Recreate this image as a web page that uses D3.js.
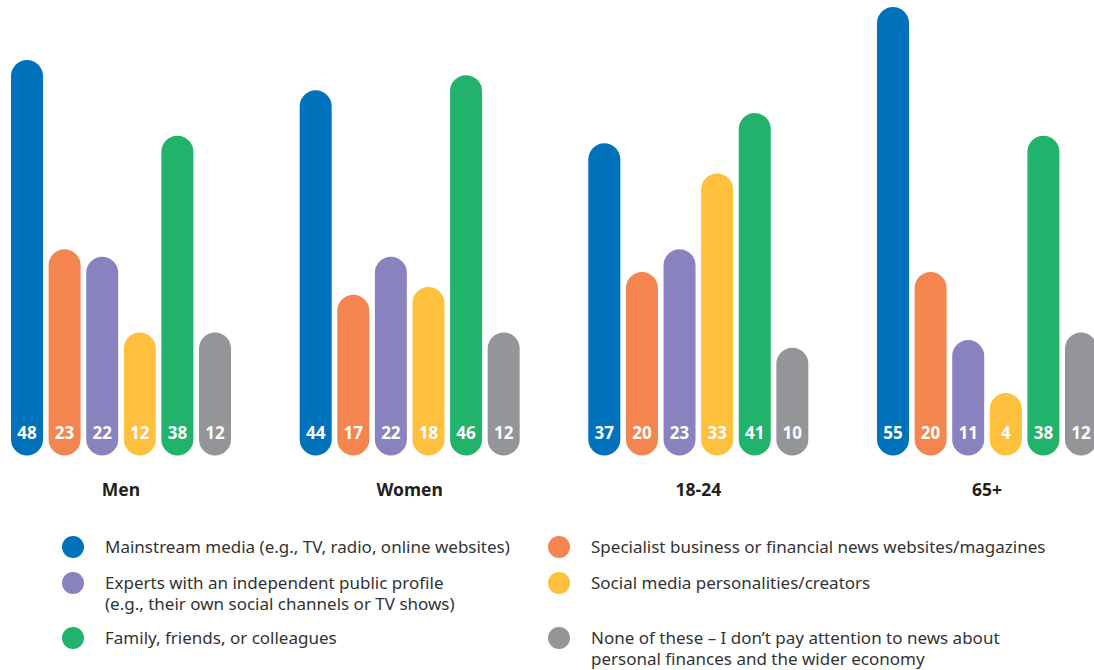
<!DOCTYPE html>
<html>
<head>
<meta charset="utf-8">
<script src="https://cdn.jsdelivr.net/npm/d3@7"></script>
<style>
  body { margin: 0; background: #fff; }
  text { font-family: "Noto Sans", "Open Sans", sans-serif; }
</style>
</head>
<body>
<svg id="chart" width="1094" height="670"></svg>
<script>
var groups = ["Men", "Women", "18-24", "65+"];
var series = ["Mainstream media (e.g., TV, radio, online websites)",
              "Specialist business or financial news websites/magazines",
              "Experts with an independent public profile (e.g., their own social channels or TV shows)",
              "Social media personalities/creators",
              "Family, friends, or colleagues",
              "None of these – I don’t pay attention to news about personal finances and the wider economy"];
var colours = ["#0072BC", "#F4854F", "#8882BF", "#FFC03D", "#21B26B", "#939598"];
var menValues   = [48, 23, 22, 12, 38, 12];
var womenValues = [44, 17, 22, 18, 46, 12];
var age1824Values = [37, 20, 23, 33, 41, 10];
var age65Values = [55, 20, 11, 4, 38, 12];

// legend text, split in lines, in reading order
var legendLines = [
  ["Mainstream media (e.g., TV, radio, online websites)"],
  ["Specialist business or financial news websites/magazines"],
  ["Experts with an independent public profile", "(e.g., their own social channels or TV shows)"],
  ["Social media personalities/creators"],
  ["Family, friends, or colleagues"],
  ["None of these – I don’t pay attention to news about", "personal finances and the wider economy"]
];

var allValues = [menValues, womenValues, age1824Values, age65Values];

var svg = d3.select("#chart");

var x0 = d3.scaleBand().domain(groups).range([11, 11 + 4 * 288.67]);
var x1 = d3.scaleBand().domain(d3.range(series.length)).range([0, 220]).paddingInner(5.6 / 37.6);
var y = d3.scaleLinear().domain([0, 55]).range([423.4, 7]);
var capExtra = 32;   // bars run below zero by a rounded cap

var g = svg.selectAll(".group")
    .data(groups)
    .enter()
    .append("g")
    .attr("class", "group")
    .attr("transform", function(d) { return "translate(" + x0(d) + ",0)"; });

var bars = g.selectAll(".bar")
    .data(function(d, i) { return allValues[i].map(function(v, j) { return {v: v, s: j}; }); })
    .enter()
    .append("g")
    .attr("class", "bar");

bars.append("rect")
    .attr("x", function(d) { return x1(d.s); })
    .attr("y", function(d) { return y(d.v); })
    .attr("width", x1.bandwidth())
    .attr("height", function(d) { return y(0) - y(d.v) + capExtra; })
    .attr("rx", x1.bandwidth() / 2)
    .attr("fill", function(d) { return colours[d.s]; });

bars.append("text")
    .attr("x", function(d) { return x1(d.s) + x1.bandwidth() / 2; })
    .attr("y", y(0) + 16)
    .attr("text-anchor", "middle")
    .attr("fill", "#fff")
    .attr("font-weight", "bold")
    .attr("font-size", "17px")
    .text(function(d) { return d.v; });

g.append("text")
    .attr("x", 110)
    .attr("y", 496)
    .attr("text-anchor", "middle")
    .attr("fill", "#231f20")
    .attr("font-weight", "bold")
    .attr("font-size", "17.5px")
    .text(function(d) { return d; });

// Legend
var legendX = [73, 559];
var legendY = [547, 583, 638];

var leg = svg.selectAll(".legend")
    .data(legendLines)
    .enter()
    .append("g")
    .attr("class", "legend")
    .attr("transform", function(d, i) { return "translate(" + legendX[i % 2] + "," + legendY[Math.floor(i / 2)] + ")"; });

leg.append("circle")
    .attr("r", 11)
    .attr("fill", function(d, i) { return colours[i]; });

leg.append("text")
    .attr("x", 32)
    .attr("y", 6)
    .attr("fill", "#333")
    .attr("font-size", "17px")
    .selectAll("tspan")
    .data(function(d) { return d; })
    .enter()
    .append("tspan")
    .attr("x", 32)
    .attr("dy", function(d, i) { return i === 0 ? 0 : 21; })
    .text(function(d) { return d; });
</script>
</body>
</html>
